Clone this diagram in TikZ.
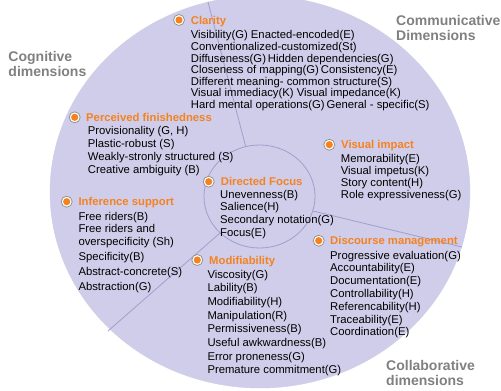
\documentclass[tikz,border=0pt]{standalone}
\usepackage{fontspec}
\setmainfont{Liberation Sans}
\definecolor{wheel}{RGB}{207, 205, 233}
\definecolor{spoke}{RGB}{160, 158, 205}
\definecolor{accent}{RGB}{245, 130, 32}
\definecolor{dimgray}{RGB}{128, 128, 128}

\begin{document}
\begin{tikzpicture}[x=1pt, y=-1pt,
		bullet/.style={circle, fill=white, draw=gray!85, line width=0.8pt, minimum size=11pt, inner sep=0pt,
			path picture={\fill [accent] (path picture bounding box.center) circle (3.6pt);}},
		head/.style={anchor=base west, inner sep=0pt, text=accent, font=\fontsize{11.3}{12}\selectfont\bfseries},
		item/.style={anchor=base west, inner sep=0pt, font=\fontsize{11.3}{12}\selectfont},
		dimlabel/.style={anchor=base west, inner sep=0pt, text=dimgray, font=\fontsize{14}{15}\selectfont\bfseries}]
			\useasboundingbox (0, 0) rectangle (501, 391);
			% the wheel
			\filldraw [draw=spoke!50, fill=wheel] (260, 192) ellipse (210 and 196);
			\coordinate (in1) at (245.7, 146.7);
			\coordinate (out1) at (208, 2);
			\coordinate (in2) at (313, 211);
			\coordinate (out2) at (462, 247);
			\coordinate (in3) at (220, 233);
			\coordinate (out3) at (108, 331);
			\draw [spoke, line width=0.8pt] (in1) -- (out1);
			\draw [spoke, line width=0.8pt] (in2) -- (out2);
			\draw [spoke, line width=0.8pt] (in3) -- (out3);
			\filldraw [draw=spoke, line width=0.8pt, fill=wheel] (259.5, 196.5) ellipse (55.5 and 51.5);

			% dimensions
			\node [dimlabel] (cog1) at (8.3, 61.7) {Cognitive};
			\node [dimlabel] (cog2) at (8.3, 76.7) {dimensions};
			\node [dimlabel] (com1) at (396, 25) {Communicative};
			\node [dimlabel] (com2) at (396, 40.7) {Dimensions};
			\node [dimlabel] (col1) at (386, 370) {Collaborative};
			\node [dimlabel] (col2) at (386, 385) {dimensions};

			% clarity
			\node [bullet] (b1) at (179, 20) {};
			\node [head] (clarity) at (190.7, 24) {Clarity};
			\foreach \t [count=\i] in {Visibility(G) Enacted-encoded(E), Conventionalized-customized(St), Diffuseness(G)\,Hidden dependencies(G), Closeness of mapping(G)\,Consistency(E), Different meaning- common structure(S), Visual immediacy(K) Visual impedance(K), Hard mental operations(G)\,General - specific(S)}
				\node [item] (cl\i) at (190.7, 27.4+11.55*\i) {\t};

			% perceived finishedness
			\node [bullet] (b2) at (74.7, 117.3) {};
			\node [head] (finish) at (86, 121.3) {Perceived finishedness};
			\foreach \t [count=\i] in {{Provisionality (G, H)}, Plastic-robust (S), Weakly-stronly structured (S), Creative ambiguity (B)}
				\node [item] (pf\i) at (87.7, 120.7+13.3*\i) {\t};

			% directed focus
			\node [bullet] (b3) at (208.7, 181.7) {};
			\node [head] (focus) at (220.7, 185.7) {Directed Focus};
			\foreach \t [count=\i] in {Unevenness(B), Salience(H), Secondary notation(G), Focus(E)}
				\node [item] (df\i) at (220, 185.3+12.75*\i) {\t};

			% visual impact
			\node [bullet] (b4) at (329.3, 144.7) {};
			\node [head] (impact) at (341, 148.7) {Visual impact};
			\foreach \t [count=\i] in {Memorability(E), Visual impetus(K), Story content(H), Role expressiveness(G)}
				\node [item] (vi\i) at (340.7, 150.4+12*\i) {\t};

			% inference support
			\node [bullet] (b5) at (66.7, 201.7) {};
			\node [head] (infer) at (78.3, 205.7) {Inference support};
			\foreach \y/\t [count=\i] in {220/Free riders(B), 232.5/Free riders and, 245/overspecificity (Sh), 260.5/Specificity(B), 275.5/Abstract-concrete(S), 290/Abstraction(G)}
				\node [item] (is\i) at (78.3, \y) {\t};

			% modifiability
			\node [bullet] (b6) at (197.3, 260) {};
			\node [head] (modif) at (209, 264) {Modifiability};
			\foreach \t [count=\i] in {Viscosity(G), Lability(B), Modifiability(H), Manipulation(R), Permissiveness(B), Useful awkwardness(B), Error proneness(G), Premature commitment(G)}
				\node [item] (mo\i) at (207.3, 264.3+13.7*\i) {\t};

			% discourse management
			\node [bullet] (b7) at (318.7, 240.7) {};
			\node [head] (discourse) at (330, 244.7) {Discourse management};
			\foreach \t [count=\i] in {Progressive evaluation(G), Accountability(E), Documentation(E), Controllability(H), Referencability(H), Traceability(E), Coordination(E)}
				\node [item] (dm\i) at (330, 246.2+12.8*\i) {\t};
		\end{tikzpicture}
\end{document}
